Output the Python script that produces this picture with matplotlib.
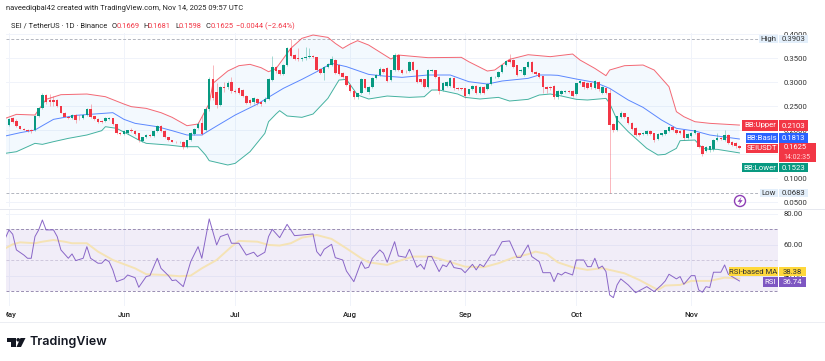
import matplotlib
matplotlib.use("Agg")
import matplotlib.pyplot as plt
from matplotlib.patches import Rectangle, Circle, Polygon
from matplotlib.transforms import Bbox
import numpy as np

plt.rcParams['font.family'] = ['Roboto', 'DejaVu Sans']

opens = [.210,.224,.219,.208,.203,.201,.200,.200,.229,.245,
         .273,.263,.262,.262,.250,.236,.228,.224,.231,.228,
         .224,.231,.244,.229,.222,.219,.219,.222,.224,.212,
         .194,.192,.193,.200,.198,.193,.178,.185,.190,.188,
         .198,.208,.198,.185,.179,.176,.174,.176,.165,.180,
         .192,.205,.215,.199,.243,.306,.280,.252,.290,.289,
         .300,.282,.287,.283,.271,.263,.258,.264,.259,.259,
         .265,.304,.331,.324,.317,.335,.370,.356,.349,.347,
         .350,.352,.354,.352,.328,.318,.332,.335,.346,.335,
         .319,.312,.294,.282,.268,.278,.306,.280,.290,.308,
         .315,.328,.330,.304,.324,.356,.325,.323,.323,.342,
         .326,.306,.306,.290,.322,.325,.311,.283,.292,.292,
         .308,.288,.287,.287,.275,.285,.292,.278,.290,.285,
         .296,.310,.310,.320,.335,.346,.346,.335,.323,.315,
         .331,.342,.321,.318,.312,.290,.290,.292,.268,.275,
         .279,.282,.282,.275,.297,.300,.297,.298,.287,.301,
         .278,.288,.278,.212,.201,.228,.235,.227,.215,.205,
         .193,.191,.192,.198,.193,.182,.190,.192,.198,.207,
         .201,.198,.199,.183,.188,.193,.194,.167,.157,.158,
         .160,.180,.183,.180,.190,.176,.172,.1669]
closes = [.222,.217,.208,.203,.200,.197,.198,.229,.245,.273,
          .259,.259,.259,.250,.236,.228,.224,.231,.221,.227,
          .231,.244,.228,.222,.217,.217,.225,.225,.212,.193,
          .192,.197,.199,.198,.191,.179,.185,.190,.188,.198,
          .208,.198,.185,.179,.176,.174,.176,.164,.179,.193,
          .203,.212,.191,.243,.306,.266,.252,.289,.287,.298,
          .282,.280,.278,.271,.257,.256,.266,.256,.254,.265,
          .306,.331,.322,.317,.335,.370,.355,.347,.347,.350,
          .353,.354,.352,.326,.318,.332,.338,.347,.318,.317,
          .311,.294,.282,.268,.277,.306,.288,.290,.308,.315,
          .328,.320,.303,.324,.356,.324,.319,.322,.342,.325,
          .299,.299,.290,.325,.324,.311,.282,.298,.300,.308,
          .287,.286,.285,.270,.285,.292,.278,.290,.278,.296,
          .311,.311,.320,.335,.344,.342,.331,.315,.326,.331,
          .342,.321,.317,.311,.289,.285,.287,.268,.282,.282,
          .282,.280,.271,.297,.302,.289,.287,.289,.303,.285,
          .290,.278,.210,.200,.229,.235,.227,.215,.203,.190,
          .190,.194,.198,.192,.179,.192,.193,.199,.207,.199,
          .194,.194,.183,.192,.194,.199,.165,.150,.165,.166,
          .180,.183,.181,.190,.172,.169,.1669,.1625]
highs = [.226,.228,.222,.209,.204,.203,.202,.232,.248,.278,
         .276,.276,.270,.264,.251,.237,.230,.234,.233,.231,
         .233,.246,.254,.230,.224,.221,.228,.227,.226,.213,
         .195,.199,.201,.204,.199,.194,.186,.191,.192,.200,
         .210,.210,.200,.186,.180,.177,.177,.178,.180,.195,
         .205,.216,.230,.246,.310,.335,.298,.292,.300,.303,
         .310,.285,.289,.285,.272,.265,.268,.267,.260,.268,
         .308,.355,.334,.326,.337,.373,.3903,.358,.370,.352,
         .372,.370,.356,.353,.329,.334,.340,.355,.348,.337,
         .320,.313,.295,.283,.278,.308,.307,.292,.310,.317,
         .331,.330,.332,.325,.360,.359,.327,.325,.344,.344,
         .327,.307,.307,.327,.327,.326,.312,.299,.302,.310,
         .310,.289,.288,.288,.286,.293,.293,.291,.291,.297,
         .312,.313,.322,.336,.346,.359,.347,.336,.328,.332,
         .344,.344,.322,.319,.313,.291,.291,.293,.283,.284,
         .284,.283,.283,.298,.305,.302,.299,.300,.305,.303,
         .292,.290,.285,.214,.230,.240,.236,.228,.216,.206,
         .194,.195,.200,.200,.194,.193,.194,.200,.208,.208,
         .202,.199,.200,.193,.195,.200,.195,.168,.166,.167,
         .181,.193,.185,.200,.192,.177,.174,.1681]
lows = [.208,.215,.206,.202,.199,.195,.193,.198,.227,.243,
        .255,.250,.250,.248,.235,.227,.222,.222,.214,.220,
        .222,.229,.226,.220,.215,.215,.217,.220,.210,.191,
        .190,.190,.191,.196,.189,.176,.175,.183,.186,.186,
        .196,.196,.183,.177,.174,.172,.172,.160,.162,.178,
        .190,.203,.189,.197,.240,.262,.245,.250,.280,.286,
        .278,.277,.275,.268,.254,.252,.255,.252,.250,.256,
        .262,.302,.318,.314,.315,.333,.353,.345,.344,.344,
        .346,.350,.350,.323,.316,.305,.330,.333,.316,.314,
        .308,.292,.280,.265,.265,.276,.286,.276,.288,.306,
        .313,.318,.300,.302,.322,.322,.316,.319,.321,.323,
        .297,.296,.287,.288,.320,.308,.275,.281,.290,.290,
        .284,.284,.283,.266,.272,.283,.276,.276,.276,.283,
        .294,.308,.308,.318,.333,.340,.329,.312,.320,.313,
        .329,.319,.315,.308,.278,.278,.284,.265,.265,.272,
        .277,.277,.268,.273,.295,.286,.285,.286,.285,.282,
        .275,.275,.0683,.196,.198,.225,.225,.213,.201,.187,
        .188,.189,.190,.190,.175,.180,.188,.190,.196,.197,
        .192,.192,.180,.181,.185,.191,.163,.146,.155,.155,
        .157,.178,.179,.178,.170,.167,.163,.1598]

# bollinger bands, read at the turning points
upper_days = [-1,2,7,10,14,21,26,31,33,37,41,44,48,51,54,55,59,62,65,68,70,72,76,79,82,86,88,90,92,94,97,101,103,105,108,113,122,124,129,131,135,140,146,152,154,158,161,162,166,171,174,178,180,182,185,189,197]
upper_vals = [.2243,.2326,.2312,.2639,.2736,.275,.2694,.2541,.2486,.2451,.2361,.2264,.209,.2125,.2555,.2972,.3229,.334,.3368,.3298,.3215,.3278,.3701,.391,.3979,.393,.3805,.3701,.3791,.3861,.377,.3576,.3479,.3562,.3541,.3507,.3514,.3423,.3229,.325,.3472,.3569,.3528,.3583,.3458,.3284,.3132,.325,.334,.3354,.325,.2902,.2382,.2278,.2173,.2139,.2103]
basis_days = [-1,3,7,9,12,16,18,23,28,31,34,40,44,48,52,56,61,67,71,74,79,83,87,91,97,101,106,113,119,124,129,133,140,143,146,148,153,158,162,167,171,176,180,185,189,197]
basis_vals = [.1875,.1944,.2,.209,.2222,.2278,.2305,.2333,.2361,.2222,.2139,.2069,.1986,.1896,.1896,.2083,.2312,.2541,.2729,.2868,.3055,.3215,.3389,.332,.3159,.3125,.3097,.3146,.3146,.3007,.2958,.3021,.3076,.3146,.3146,.3139,.3062,.2993,.2868,.2625,.2472,.2208,.2035,.1979,.1896,.1813]
lower_days = [-1,2,7,9,12,16,21,25,26,29,32,35,37,43,47,51,53,54,59,61,65,69,70,72,73,75,79,82,86,89,91,94,97,102,108,112,114,116,121,123,127,132,135,140,143,146,149,153,156,161,162,164,167,172,175,177,180,181,185,187,189,191,197]
lower_vals = [.1514,.1548,.1722,.1701,.1757,.1826,.1896,.1986,.2069,.2035,.1916,.1791,.1722,.1687,.1652,.1652,.1479,.1361,.1271,.1305,.1548,.193,.2173,.2333,.2403,.2292,.2264,.2333,.2659,.3041,.3055,.2729,.2646,.2708,.268,.2694,.2833,.2833,.275,.268,.2646,.268,.2604,.2639,.2729,.275,.2708,.2639,.2625,.2659,.2555,.2208,.1965,.1618,.1479,.1493,.1618,.1778,.1791,.1618,.1597,.1597,.1523]

# rsi and its moving average
rsi_days = [-1,0,1,2,4,5,6,7,8,9,10,12,13,14,16,17,18,20,21,22,24,25,26,27,28,29,31,32,34,35,37,38,40,41,43,44,45,47,49,51,52,54,56,57,59,60,62,64,66,67,69,70,71,73,75,77,79,82,83,84,85,87,88,90,91,93,95,96,97,98,100,101,102,104,105,107,108,110,111,112,113,114,116,117,118,119,120,122,123,125,126,127,128,130,131,133,135,137,138,140,141,143,144,146,147,148,149,150,152,153,155,156,157,158,159,160,161,162,163,164,165,167,169,172,174,176,177,178,180,181,182,184,185,186,187,188,189,190,192,193,194,195,197]
rsi_vals = [64.3,69.7,66.9,56.8,53.5,51.4,51.4,65.4,69.7,76.1,69.7,69.7,65.4,56.8,51.4,54.2,49.9,51.4,58.9,51.4,48.2,48.2,50.7,49.2,43.9,36.3,38.1,40.6,38.9,32.7,39.6,40.2,51.4,44.9,40.2,37,37.4,33.1,49.2,58.9,51.4,76.8,60,65.4,67.1,61.1,61.1,53.5,55.3,52.5,55.3,65.4,70.1,64.7,73.3,66,66.4,67.1,55.7,52.9,57.2,60.4,51.8,50.3,43.2,36.3,49.2,44.9,45.6,51.4,56.8,54.6,48.8,62.1,52.9,52,57.2,45.6,47.5,44.3,52.5,52.5,42.8,47.1,46,49.7,45.4,44.5,42.1,47.5,43.9,47.5,46,53.5,53.5,62.1,62.6,52,52,60,52.5,49.2,42.1,42.1,36.3,41.7,40.6,42.4,40.6,50.3,50.3,46,46,51.4,44.9,46.4,42.8,27.7,26,34.2,38.1,34.2,29.2,33.1,29.9,34.2,36.8,41.1,38.1,39.6,34.6,40.2,40.2,31,29.5,33.1,32.5,42.4,42.4,47.1,41.1,39.6,36.74]
ma_days = [-1,1,3,7,9,12,15,17,21,24,28,34,37,42,46,49,52,56,60,62,67,70,73,76,79,83,87,91,95,97,102,106,109,114,118,123,128,132,136,140,142,145,148,152,156,160,166,170,175,177,181,184,189,193,197]
ma_vals = [57.8,60.4,61.7,61.1,62.1,63.2,62.1,61.1,61.1,55.7,50.3,44.9,41.1,40.6,39.8,40.2,44.9,50.3,58.9,62.6,62.1,60,59.6,61.1,64.7,66.4,63.9,57.8,51.4,48.8,47.1,50.3,52.5,52.5,49.7,46,45.6,48.2,51.8,54,55.7,54.2,48.8,45.6,43.9,45,41.7,37.4,31,33.8,34.2,36.8,36.8,38.9,38.38]

month_days = [0,31,61,92,123,153,184]
month_labels = ['May','Jun','Jul','Aug','Sep','Oct','Nov']
price_ticks = [.40,.35,.30,.25,.20,.15,.10,.05]
rsi_ticks = [80,60,40]

UP = '#089981'
DOWN = '#F23645'
PURPLE = '#7E57C2'
GRID = '#f0f3fa'
W, H = 825, 361
PANE_L, PANE_R = 6, 778


def pane(top, bottom):
    return [PANE_L / W, 1 - bottom / H, (PANE_R - PANE_L) / W, (bottom - top) / H]


fig = plt.figure(figsize=(W / 100, H / 100), dpi=100)
ax = fig.add_axes(pane(33, 207))
ax_rsi = fig.add_axes(pane(209, 306))
for a in (ax, ax_rsi):
    a.set_xlim(-0.81, 207.4)
    a.set_xticks(month_days)
    a.grid(True, color=GRID, lw=0.7)
    a.set_axisbelow(True)
    a.yaxis.tick_right()
    a.tick_params(length=0, labelsize=5.6, labelcolor='#333333')
    for s in a.spines.values():
        s.set_visible(False)

# price pane
ax.set_ylim(.0396, .4021)
ax.set_yticks(price_ticks)
ax.set_yticklabels(['%.4f' % p for p in price_ticks])
ax.tick_params(axis='y', pad=4.3)
ax.tick_params(axis='x', labelbottom=False)
ax.axhline(max(highs), color='#b2b5be', lw=0.7, ls=(0, (3, 2)))
ax.axhline(min(lows), color='#b2b5be', lw=0.7, ls=(0, (3, 2)))

ax.fill(np.r_[upper_days, lower_days[::-1]], np.r_[upper_vals, lower_vals[::-1]],
        color='#2196F3', alpha=0.05, lw=0)
ax.plot(upper_days, upper_vals, color=DOWN, lw=0.7, alpha=0.75)
ax.plot(basis_days, basis_vals, color='#2962FF', lw=0.7, alpha=0.75)
ax.plot(lower_days, lower_vals, color=UP, lw=0.7, alpha=0.75)

for i in range(len(opens)):
    c = UP if closes[i] >= opens[i] else DOWN
    ax.vlines(i, lows[i], highs[i], color=c, lw=0.5, alpha=0.5, zorder=3)
    ax.bar(i, abs(closes[i] - opens[i]), bottom=min(opens[i], closes[i]), width=0.68,
           color=c, lw=0, zorder=4)

# rsi pane
ax_rsi.set_ylim(20.6, 83.2)
ax_rsi.set_yticks(rsi_ticks)
ax_rsi.set_yticklabels(['%.2f' % r for r in rsi_ticks])
ax_rsi.tick_params(axis='y', pad=4.3)
ax_rsi.set_xticklabels(month_labels, fontsize=5.6, color='#222222', fontweight='medium')
ax_rsi.tick_params(axis='x', pad=4.3)
ax_rsi.axhspan(30, 70, color=PURPLE, alpha=0.1, lw=0)
for lev, al in ((70, 0.9), (50, 0.35), (30, 0.9)):
    ax_rsi.axhline(lev, color='#8f82aa', lw=0.7, ls=(0, (3, 2)), alpha=al)
ax_rsi.plot(ma_days, ma_vals, color='#F5E3B5', lw=1.4)
ax_rsi.plot(rsi_days, rsi_vals, color=PURPLE, lw=0.7, alpha=0.9)

fig.canvas.draw()
may = ax_rsi.get_xticklabels()[0]
may.set_clip_box(Bbox([[PANE_L, 0], [W, H]]))
may.set_clip_on(True)

# overlay in pixel space for labels, captions and logo
ov = fig.add_axes([0, 0, 1, 1], zorder=10)
ov.set_xlim(0, W)
ov.set_ylim(H, 0)
ov.axis('off')
ov.patch.set_alpha(0)

ov.plot([0, W], [209, 209], color='#e6e8ef', lw=0.7)
ov.plot([0, W], [322, 322], color='#eceef3', lw=0.7)

ov.text(6, 9, 'naveediqbal42 created with TradingView.com, Nov 14, 2025 09:57 UTC',
        fontsize=5.4, color='#222222', va='center')
ov.text(11, 26, 'SEI / TetherUS · 1D · Binance', fontsize=5.4, color='#222222', va='center')
for lab, lx, val, vx in (('O', 112, '0.1669', 116.5), ('H', 143, '0.1681', 147.5),
                         ('L', 175, '0.1598', 178.5), ('C', 206, '0.1625', 210.5)):
    ov.text(lx, 26, lab, fontsize=5.4, color='#222222', va='center')
    ov.text(vx, 26, val, fontsize=5.4, color=DOWN, va='center')
ov.text(236, 26, '−0.0044 (−2.64%)', fontsize=5.4, color=DOWN, va='center')


def tag(x0, x1, y0, y1, txt, bg, fg='white', ha='center'):
    ov.add_patch(Rectangle((x0, y0), x1 - x0, y1 - y0, fc=bg, ec='none', zorder=5))
    ov.text((x0 + x1) / 2, (y0 + y1) / 2, txt, color=fg, fontsize=5.6, ha=ha, va='center', zorder=6)


BLUE = '#2962FF'
PALE = '#e3effb'
tag(759, 778, 35, 43, 'High', PALE, '#333333')
tag(779, 808, 35, 43, '0.3903', PALE, '#333333')
tag(742, 778, 120, 131, 'BB:Upper', DOWN)
tag(779, 808, 120, 131, '0.2103', DOWN)
tag(746, 778, 133, 143, 'BB:Basis', BLUE)
tag(779, 808, 133, 143, '0.1813', BLUE)
tag(746, 778, 144, 153, 'SEIUSDT', DOWN)
ov.add_patch(Rectangle((779, 143), 37, 19, fc=DOWN, ec='none', zorder=5))
ov.text(795, 147.8, '0.1625', color='white', fontsize=5.4, ha='center', va='center', zorder=6)
ov.text(797, 157.5, '14:02:35', color='#ffd5d9', fontsize=5.0, ha='center', va='center', zorder=6)
tag(742, 778, 163, 172, 'BB:Lower', UP)
tag(779, 808, 163, 172, '0.1523', UP)
tag(760, 778, 189, 197, 'Low', PALE, '#333333')
tag(779, 808, 189, 197, '0.0683', PALE, '#333333')
tag(729, 778, 267, 276, 'RSI-based MA', '#FFD83B', '#333333')
tag(779, 806, 267, 276, '38.38', '#FFD83B', '#333333')
tag(763, 778, 277, 287, 'RSI', PURPLE)
tag(779, 806, 277, 287, '36.74', PURPLE)

# bolt icon
ov.add_patch(Circle((740, 201), 5.5, fc='white', ec='#8e3fb5', lw=1.0, zorder=5))
ov.add_patch(Polygon([(741.5, 197), (737.5, 201.8), (740, 201.8), (738.8, 205),
                      (742.6, 200.2), (740.2, 200.2)], fc='#8e3fb5', ec='none', zorder=6))

# tradingview logo
LOGO = '#131722'
ov.add_patch(Polygon([(7, 338), (15.5, 338), (15.5, 347), (11, 347), (11, 341.5), (7, 341.5)], fc=LOGO, ec='none'))
ov.add_patch(Circle((18.2, 339.8), 1.8, fc=LOGO, ec='none'))
ov.add_patch(Polygon([(20.5, 338), (25.5, 338), (21, 347), (16.5, 347)], fc=LOGO, ec='none'))
ov.text(30, 342, 'TradingView', fontsize=9, color=LOGO, va='center', family='Inter', fontweight='semibold')

fig.savefig('out.png', dpi=100)
